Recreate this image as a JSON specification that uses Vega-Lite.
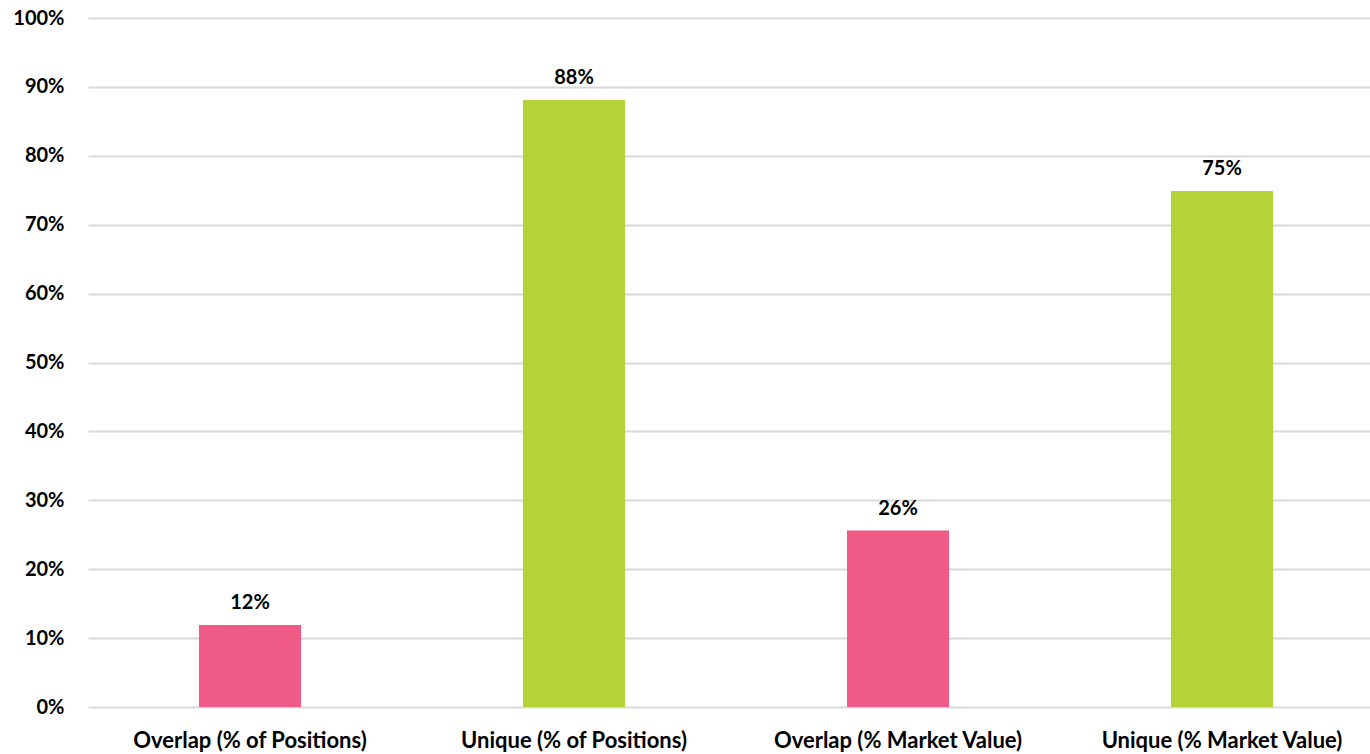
{
  "$schema": "https://vega.github.io/schema/vega-lite/v6.json",
  "autosize": "none",
  "width": 1296,
  "height": 689,
  "padding": {"left": 88, "top": 18, "right": 0, "bottom": 47},
  "background": "white",
  "config": {"view": {"stroke": null}, "font": "Lato"},
  "data": {"values": [
    {"category": "Overlap (% of Positions)", "value": 0.119, "type": "Overlap"},
    {"category": "Unique (% of Positions)", "value": 0.881, "type": "Unique"},
    {"category": "Overlap (% Market Value)", "value": 0.256, "type": "Overlap"},
    {"category": "Unique (% Market Value)", "value": 0.749, "type": "Unique"}
  ]},
  "encoding": {
    "x": {"field": "category", "type": "nominal", "sort": null,
      "scale": {"paddingInner": 0.685, "paddingOuter": 0.3425},
      "axis": {"title": null, "labelAngle": 0, "ticks": false, "domain": false, "labelLimit": 500,
        "labelFont": "Lato", "labelFontWeight": "bold", "labelFontSize": 22, "labelColor": "#000000", "labelPadding": 23}},
    "y": {"field": "value", "type": "quantitative",
      "scale": {"domain": [0, 1]},
      "axis": {"title": null, "format": ".0%", "tickCount": 10, "ticks": false, "domain": false,
        "gridColor": "#d9d9d9", "gridWidth": 2,
        "labelFont": "Lato", "labelFontWeight": "bold", "labelFontSize": 20, "labelColor": "#000000", "labelPadding": 24}}
  },
  "layer": [
    {"mark": {"type": "bar"},
     "encoding": {"color": {"field": "type", "type": "nominal", "legend": null,
       "scale": {"domain": ["Overlap", "Unique"], "range": ["#F05A87", "#B3D337"]}}}},
    {"mark": {"type": "text", "baseline": "bottom", "dy": -12, "font": "Lato", "fontWeight": "bold", "fontSize": 20, "color": "#000000"},
     "encoding": {"text": {"field": "value", "type": "quantitative", "format": ".0%"}}}
  ]
}
